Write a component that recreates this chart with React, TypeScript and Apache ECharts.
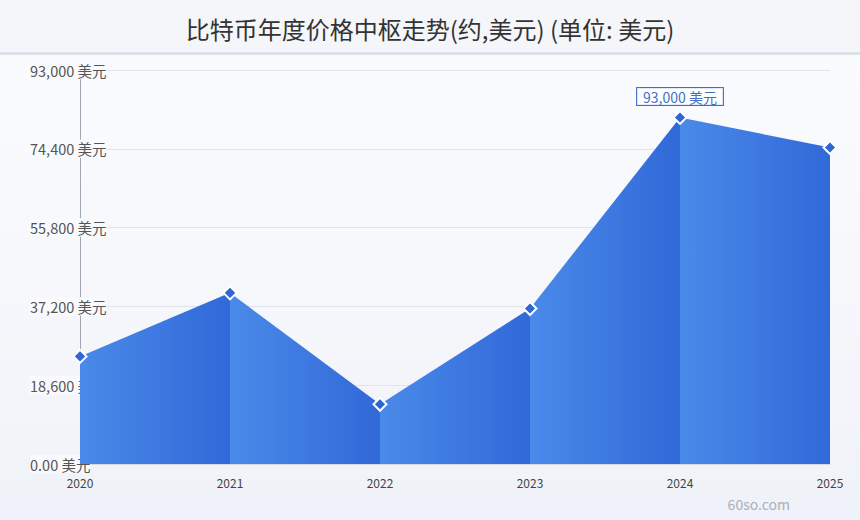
import React, { useEffect, useRef } from "react";
import * as echarts from "echarts";

const years = ["2020", "2021", "2022", "2023", "2024", "2025"];
const prices = [25400, 40400, 14100, 36700, 81800, 74700];
const yTickLabels = ["0.00 美元", "18,600 美元", "37,200 美元", "55,800 美元", "74,400 美元", "93,000 美元"];
const annotationIndex = 4;
const annotationText = "93,000 美元";
const titleText = "比特币年度价格中枢走势(约,美元) (单位: 美元)";
const watermark = "60so.com";

const FONT = '"Noto Sans CJK SC", "Noto Sans", sans-serif';

export default function App() {
  const ref = useRef<HTMLDivElement>(null);
  useEffect(() => {
    if (!ref.current) return;
    const chart = echarts.init(ref.current, undefined, { renderer: "svg" });
    const segSeries = [];
    for (let i = 0; i < prices.length - 1; i++) {
      const d = prices.map((v, j) => (j === i || j === i + 1 ? v : null));
      segSeries.push({
        type: "line",
        data: d,
        showSymbol: false,
        symbol: "none",
        connectNulls: false,
        lineStyle: { width: 0, opacity: 0 },
        areaStyle: {
          opacity: 1,
          color: new echarts.graphic.LinearGradient(0, 0, 1, 0, [
            { offset: 0, color: "#4a8ae9" },
            { offset: 1, color: "#3169d8" },
          ]),
        },
        silent: true,
        z: 2,
      });
    }
    chart.setOption({
      animation: false,
      backgroundColor: "transparent",
      textStyle: { fontFamily: FONT },
      title: {
        text: titleText,
        left: "center",
        top: 11,
        textStyle: { fontFamily: FONT, fontSize: 24, fontWeight: "normal", color: "#333" },
      },
      graphic: [
        {
          type: "text",
          right: 70,
          bottom: 9,
          style: { text: watermark, fill: "#a9b0bd", fontSize: 14, fontFamily: FONT },
        },
      ],
      grid: { left: 80, right: 30, top: 70, bottom: 56 },
      xAxis: {
        type: "category",
        data: years,
        boundaryGap: false,
        axisLine: { show: true, lineStyle: { color: "#d5d9e2" } },
        axisTick: { show: false },
        axisLabel: { color: "#444", fontSize: 12, margin: 12, fontFamily: FONT },
        splitLine: { show: false },
      },
      yAxis: {
        type: "value",
        min: 0,
        max: 93000,
        interval: 18600,
        axisLine: { show: true, lineStyle: { color: "#a0a6b2" } },
        axisTick: { show: false },
        axisLabel: {
          color: "#555",
          fontSize: 14.5,
          fontFamily: FONT,
          align: "left",
          margin: 50,
          backgroundColor: "#f9fafd",
          padding: [0, 0, 4, 0],
          formatter: (_v: number, idx: number) => yTickLabels[idx],
        },
        splitLine: { show: true, lineStyle: { color: "#e1e4eb" } },
      },
      series: [
        ...segSeries,
        {
          type: "line",
          data: prices.map((v, i) =>
            i === annotationIndex
              ? {
                  value: v,
                  label: {
                    show: true,
                    position: "top",
                    distance: 5,
                    formatter: annotationText,
                    color: "#4470c4",
                    fontSize: 14,
                    fontFamily: FONT,
                    backgroundColor: "rgba(255,255,255,0.85)",
                    borderColor: "#3a6fd0",
                    borderWidth: 1,
                    padding: [2, 6, 1, 6],
                  },
                }
              : v
          ),
          symbol: "diamond",
          symbolSize: 13,
          showSymbol: true,
          lineStyle: { width: 0, opacity: 0 },
          itemStyle: { color: "#2f66d4", borderColor: "#ffffff", borderWidth: 2 },
          z: 5,
        },
      ],
    });
    return () => chart.dispose();
  }, []);
  return (
    <div
      style={{
        position: "absolute",
        left: 0,
        top: 0,
        width: 860,
        height: 520,
        background: "linear-gradient(180deg, #fbfcfe 0%, #f7f8fc 50%, #eff2f8 100%)",
      }}
    >
      <div
        style={{
          position: "absolute",
          left: 0,
          top: 0,
          width: 860,
          height: 52,
          background: "#f5f6fa",
          borderBottom: "3px solid #dde1ea",
        }}
      />
      <div ref={ref} style={{ position: "absolute", left: 0, top: 0, width: 860, height: 520 }} />
    </div>
  );
}
